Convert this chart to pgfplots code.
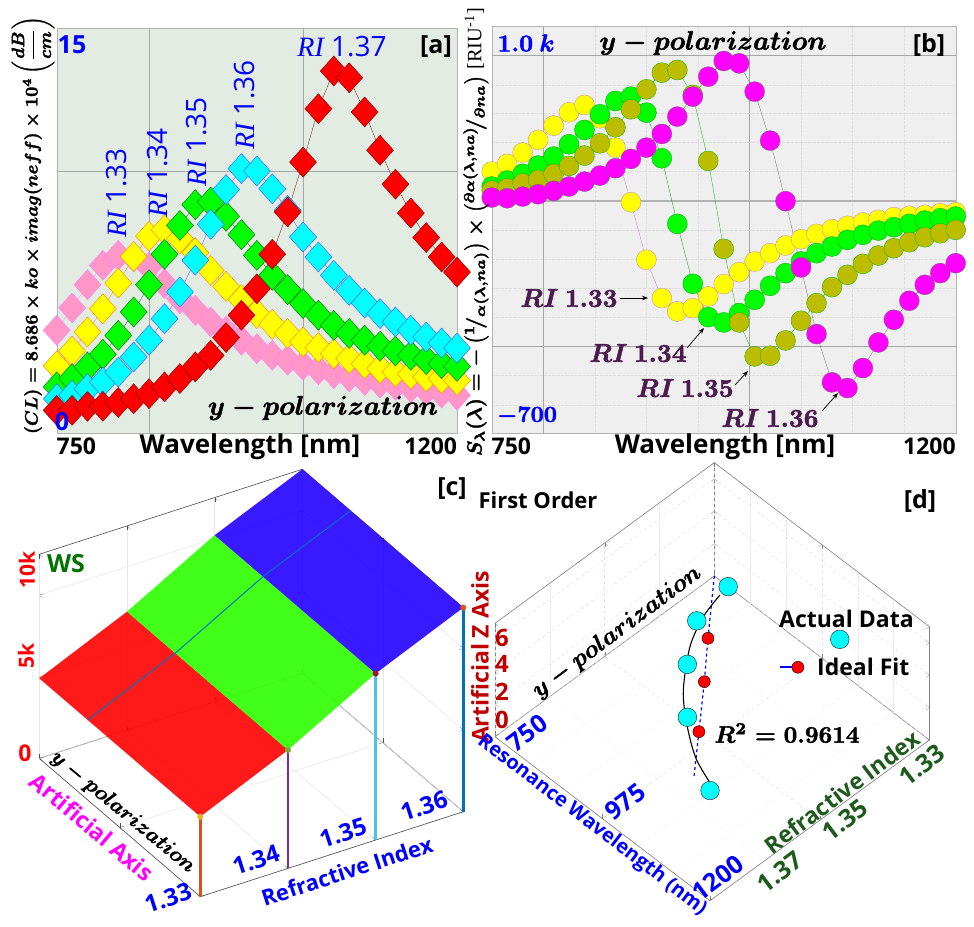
\documentclass[border=0pt]{standalone}
\usepackage[no-math]{fontspec}
\usepackage{pgfplots}
\usepackage{pgfplotstable}
\pgfplotsset{compat=1.18}
\usetikzlibrary{arrows.meta}
\setmainfont{Open Sans}
\newfontfamily\rifont{Liberation Serif}

% font size shorthand
\newcommand{\fs}[1]{\fontsize{#1}{#1}\selectfont}
% bold math squeezed to a width in px, outlined a little to get the weight of the original
\newcommand{\heavy}[1]{\special{pdf:code q 2 Tr 0.18 w}#1\special{pdf:code Q}}
\newcommand{\mb}[2]{\resizebox{#1pt}{!}{\heavy{\boldmath$#2$}}}
\newcommand{\riblue}[1]{\fs{28}{\rifont\itshape RI} #1}

% plain rgb primaries, the xcolor ones are cmyk here
\definecolor{cyan}{rgb}{0,1,1}
\definecolor{magenta}{rgb}{1,0,1}
\definecolor{yellow}{rgb}{1,1,0}
\definecolor{bga}{HTML}{E3ECE3}
\definecolor{bgb}{HTML}{EFEFEF}
\definecolor{ripurple}{HTML}{4B1A4F}
\definecolor{dgreen}{HTML}{1E5A1E}
\definecolor{dred}{HTML}{C00000}
\definecolor{pinkd}{HTML}{FF96C8}
\definecolor{olive}{HTML}{BDBD00}
\definecolor{sheetg}{HTML}{2DFF00}
\definecolor{sheetb}{HTML}{2400FF}
\definecolor{st1}{HTML}{D95319}
\definecolor{st2}{HTML}{7E2F8E}
\definecolor{st3}{HTML}{4DBEEE}
\definecolor{st4}{HTML}{0072BD}
\definecolor{tip1}{HTML}{EDB120}
\definecolor{tip2}{HTML}{77AC30}
\definecolor{tip3}{HTML}{A2142F}
\definecolor{tip4}{HTML}{D95319}

\pgfplotstableread{
x pink yellow green cyan red
750.0 3.81 2.49 1.71 1.27 0.84
767.3 4.64 3.04 2.02 1.40 0.84
784.6 5.50 3.75 2.45 1.64 0.99
801.9 6.22 4.61 2.92 1.89 0.99
819.2 6.59 5.56 3.62 2.26 1.13
836.5 6.53 6.55 4.49 2.82 1.27
853.8 6.16 7.30 5.50 3.44 1.46
871.2 5.54 7.54 6.63 4.24 1.71
888.5 4.98 7.21 7.70 5.23 2.02
905.8 4.55 6.69 8.47 6.41 2.45
923.1 4.12 6.03 8.57 7.74 2.88
940.4 3.78 5.44 8.04 9.03 3.54
957.7 3.44 4.95 7.36 9.81 4.37
975.0 3.13 4.43 6.59 9.72 5.35
992.3 2.88 4.03 5.85 9.06 6.63
1009.6 2.70 3.69 5.32 8.26 8.20
1026.9 2.51 3.38 4.80 7.27 10.05
1044.2 2.35 3.17 4.37 6.53 12.03
1061.5 2.20 2.94 3.99 5.85 13.43
1078.8 2.08 2.76 3.69 5.29 13.18
1096.2 1.95 2.57 3.44 4.82 11.91
1113.5 1.85 2.39 3.22 4.43 10.49
1130.8 1.77 2.26 3.04 4.12 9.23
1148.1 1.68 2.18 2.88 3.81 8.16
1165.4 1.58 2.08 2.72 3.56 7.25
1182.7 1.48 2.02 2.57 3.34 6.53
1200.0 1.40 1.95 2.47 3.15 5.97
}\lossdata

\pgfplotstableread{
x yellow green olive magenta
750 393.8 331.1 314.4 285.1
765 425.9 356.2 324.1 282.3
780 473.2 384.0 345.0 289.3
795 526.2 418.9 358.9 299.0
810 586.0 456.5 384.0 313.0
825 641.8 508.0 417.5 331.1
840 672.5 568.0 460.7 352.0
855 616.7 633.5 512.2 377.1
870 494.1 689.2 579.1 407.7
885 265.6 707.3 654.4 446.7
900 24.5 640.4 737.9 494.1
915 -135.7 449.5 807.6 551.3
930 -191.4 175.0 818.8 623.7
945 -177.5 -75.8 714.3 707.3
960 -128.7 -215.1 438.4 790.9
975 -77.2 -237.4 70.5 856.4
990 -27.0 -198.4 -237.4 846.6
1005 17.6 -142.7 -379.5 728.2
1020 52.4 -84.1 -376.8 523.4
1035 84.5 -31.2 -312.7 269.8
1050 110.9 17.6 -230.4 -7.5
1065 133.2 52.4 -156.6 -286.2
1080 152.7 80.3 -89.7 -488.2
1095 166.7 108.2 -38.2 -512.0
1110 180.6 129.0 7.8 -428.3
1125 191.8 147.1 42.6 -321.0
1140 202.9 161.1 73.3 -226.3
1155 208.5 175.0 98.4 -146.8
1170 212.6 188.9 119.3 -80.0
1185 219.6 198.7 136.0 -31.2
1200 223.8 205.7 150.0 10.6
}\sensdata

\pgfplotsset{
  panel/.style={
    scale only axis, clip=false,
    xmin=750, xmax=1200,
    major tick length=0pt, minor tick length=0pt,
    axis line style={gray!60},
    tick label style={font=\bfseries\fs{23}},
    yticklabel=\empty,
    xticklabels={\rlap{750},,,\llap{1200}},
    every x tick label/.append style={yshift=-1pt},
  },
  dia/.style 2 args={mark=diamond*, mark size=15pt, line width=0.3pt, color=#2,
    mark options={xscale=1.2, fill=#1, draw=#2, line width=0.4pt, solid}},
  ball/.style 2 args={mark=*, mark size=10pt, line width=0.3pt, color=#2,
    mark options={fill=#1, draw=#2, line width=0.3pt, solid}},
  stem/.style 2 args={color=#1, line width=2.8pt, mark=*, mark indices={2}, mark size=2.8pt,
    mark options={fill=#2, draw=#2, line width=0.3pt}},
}

\begin{document}
\begin{tikzpicture}
\path[use as bounding box] (0,0) rectangle (974pt,926pt);

% [a] confinement loss
\begin{axis}[panel, at={(56.7pt,493pt)}, anchor=south west, width=400.3pt, height=404.3pt,
  ymin=0, ymax=15, axis background/.style={fill=bga},
  xtick={750,853.8,1026.9,1200}, ytick={0,9.7,15},
  minor xtick={975}, minor ytick={7.4},
  xmajorgrids, ymajorgrids, major grid style={gray!70, line width=0.4pt},
]
\addplot[dia={pinkd}{magenta!50}] table[x=x,y=pink] {\lossdata};
\addplot[dia={yellow}{orange}] table[x=x,y=yellow] {\lossdata};
\addplot[dia={green}{black!60!green}] table[x=x,y=green] {\lossdata};
\addplot[dia={cyan}{blue!70}] table[x=x,y=cyan] {\lossdata};
\addplot[dia={red}{black!55!red}] table[x=x,y=red] {\lossdata};
\end{axis}

% [b] sensitivity
\begin{axis}[panel, at={(491.7pt,493pt)}, anchor=south west, width=464pt, height=406.3pt,
  ymin=-700, ymax=1000, axis background/.style={fill=bgb},
  xtick={750,800,1000,1200}, ytick={-338,271,879},
  minor xtick={850,900,950,1050,1100,1150},
  minor ytick={-582,-459,-216,-94,29,150,394,515,638,757},
  xmajorgrids, ymajorgrids, xminorgrids, yminorgrids,
  major grid style={gray!70, line width=0.4pt},
  minor grid style={gray!25, line width=0.3pt, densely dotted},
]
\addplot[gray!60, line width=1.2pt, forget plot] coordinates {(750,271)(1200,271)};
\addplot[ball={yellow}{violet!50}] table[x=x,y=yellow] {\sensdata};
\addplot[ball={green}{black!40!green}] table[x=x,y=green] {\sensdata};
\addplot[ball={olive}{black!30!green}] table[x=x,y=olive] {\sensdata};
\addplot[ball={magenta}{black!60}] table[x=x,y=magenta] {\sensdata};
\end{axis}

% [c] 3d sheet
\begin{axis}[at={(39.3pt,29.3pt)}, anchor=south west, clip=false,
  x={(8767pt,2833pt)}, y={(-161pt,138.3pt)}, z={(0pt,16.33pt)},
  xmin=1.33, xmax=1.36, ymin=0, ymax=1, zmin=0, zmax=12.5,
  xtick={1.33,1.34,1.35,1.36}, ytick={0,0.5,1}, ztick={0,5,10},
  xticklabel=\empty, yticklabel=\empty, zticklabel=\empty,
  grid=major, major grid style={gray!20, line width=0.5pt},
  axis line style={black!70, line width=0.6pt}, tick style={black!70},
]
\addplot3[fill=red, draw=none, fill opacity=0.9] coordinates {(1.33,0,4.9)(1.34,0,7.25)(1.34,1,7.25)(1.33,1,4.9)};
\addplot3[fill=sheetg, draw=none, fill opacity=0.9] coordinates {(1.34,0,7.25)(1.35,0,10.2)(1.35,1,10.2)(1.34,1,7.25)};
\addplot3[fill=sheetb, draw=none, fill opacity=0.9] coordinates {(1.35,0,10.2)(1.36,0,12.5)(1.36,1,12.5)(1.35,1,10.2)};
\addplot3[color=st4, line width=1pt] coordinates {(1.33,0.7,4.9)(1.34,0.7,7.25)(1.35,0.7,10.2)(1.36,0.7,12.5)};
\addplot3[stem={st1}{tip1}] coordinates {(1.33,0,0)(1.33,0,4.9)};
\addplot3[stem={st2}{tip2}] coordinates {(1.34,0,0)(1.34,0,7.25)};
\addplot3[stem={st3}{tip3}] coordinates {(1.35,0,0)(1.35,0,10.2)};
\addplot3[stem={st4}{tip4}] coordinates {(1.36,0,0)(1.36,0,12.5)};
\end{axis}

% [d] linear fit in 3d, order (RI, wavelength, z)
\begin{axis}[at={(495pt,25.3pt)}, anchor=south west, clip=false,
  x={(-5483pt,-4017pt)}, y={(0.4778pt,-0.3644pt)}, z={(0pt,16.2pt)},
  xmin=1.33, xmax=1.37, ymin=750, ymax=1200, zmin=0, zmax=7,
  xtick={1.33,1.35,1.37}, ytick={750,975,1200}, ztick={0,2,4,6},
  minor ytick={825,900,1050,1125}, minor xtick={1.34,1.36},
  xticklabel=\empty, yticklabel=\empty, zticklabel=\empty,
  grid=both, major grid style={gray!25, dashed, line width=0.4pt},
  minor grid style={gray!20, densely dotted, line width=0.3pt},
  axis line style={gray, line width=0.6pt}, tick style={gray}, minor tick length=0pt,
]
\addplot3[only marks, mark=*, mark size=9.3pt, mark options={fill=cyan, draw=black!80, line width=0.5pt}]
  coordinates {(1.33,779,0)(1.34,828,1.47)(1.35,923,3.4)(1.36,1038,5.2)(1.37,1200,6.8)};
\addplot3[blue, dashed, line width=1.2pt, mark=*, mark indices={2,3,4}, mark size=6pt,
  mark options={solid, fill=red, draw=black, line width=0.4pt}]
  coordinates {(1.33,750,0)(1.34,851.5,0.92)(1.35,958.6,3.13)(1.36,1062,4.85)(1.37,1166.5,6.9)};
\addplot3[black, smooth, line width=1.1pt] coordinates {(1.3318,782.4,0)(1.338,818.8,1.02)(1.344,859.7,1.58)(1.3532,951.4,3.25)(1.36,1036.4,4.78)(1.3652,1117,5.63)(1.37,1217,6.9)};
\end{axis}

% legend of [d], on its own hidden axis
\begin{axis}[hide axis, scale only axis, at={(776pt,245pt)}, anchor=south west, width=120pt, height=60pt,
  xmin=0, xmax=1, ymin=0, ymax=1,
  legend style={at={(0,0)}, anchor=south west, draw=none, fill=none,
    font=\bfseries\fs{23}, cells={anchor=west}, row sep=25pt},
]
\addlegendimage{legend image code/.code={\node[overlay, circle, inner sep=0pt, minimum size=18.6pt, fill=cyan, draw=black!80, line width=0.5pt] at (50pt,-20pt) {};}}
\addlegendentry{\makebox[0pt][l]{\hspace*{-27pt}Actual Data}\phantom{Ideal Fit}}
\addlegendimage{legend image code/.code={\draw[blue, line width=2pt] (0,0)--(23pt,0); \node[circle, inner sep=0pt, minimum size=12pt, fill=red, draw=black, line width=0.4pt] at (11.5pt,0) {};}}
\addlegendentry{\hspace*{11pt}Ideal Fit}
\end{axis}

% all annotation in reference pixel coordinates
\begin{scope}[x=1pt, y=-1pt, shift={(0,926pt)}]
  % panel a
  \node[blue, font=\bfseries\fs{25}] at (72,45) {15};
  \node[blue, font=\bfseries\fs{25}] at (62,422) {0};
  \node[font=\bfseries\fs{25}] at (436,47) {[a]};
  \node[blue] at (342,47) {\riblue{1.37}};
  \node[blue, rotate=90] at (117,193) {\riblue{1.33}};
  \node[blue, rotate=90] at (158,173) {\riblue{1.34}};
  \node[blue, rotate=90] at (197,142) {\riblue{1.35}};
  \node[blue, rotate=90] at (245,105) {\riblue{1.36}};
  \node at (323,408) {\mb{230}{y - polarization}};
  \node[font=\bfseries\fs{26}] at (250,447) {Wavelength [nm]};
  \node[rotate=90] at (33,225) {\mb{418}{(CL) = 8.686 \times ko \times imag(neff) \times 10^{4}\left(\displaystyle\frac{dB}{cm}\right)}};
  \node[rotate=90] at (476,232) {\resizebox{448pt}{!}{\heavy{\boldmath$S_{\lambda}(\lambda) = -\left({}^{1}\!/_{\alpha(\lambda,na)}\right) \times \left({}^{\partial\alpha(\lambda,na)}\!/_{\partial na}\right)$}\ \textrm{\rifont [RIU\textsuperscript{-1}]}}};
  % panel b
  \node[blue] at (526,43) {\mb{57}{1.0\ k}};
  \node[blue] at (527,416) {\mb{60}{-700}};
  \node at (713,43) {\mb{227}{y - polarization}};
  \node[font=\bfseries\fs{25}] at (929,45) {[b]};
  \node[font=\bfseries\fs{26}] at (725,447) {Wavelength [nm]};
  \node[ripurple] at (569,298) {\mb{97}{RI\ 1.33}};
  \node[ripurple] at (638,353) {\mb{97}{RI\ 1.34}};
  \node[ripurple] at (685,388) {\mb{97}{RI\ 1.35}};
  \node[ripurple] at (770,418) {\mb{97}{RI\ 1.36}};
  \draw[-{Stealth[length=6pt]}, line width=0.7pt] (620,298)--(648,298);
  \draw[-{Stealth[length=6pt]}, line width=0.7pt] (687,348)--(704,328);
  \draw[-{Stealth[length=6pt]}, line width=0.7pt] (735,385)--(748,371);
  \draw[-{Stealth[length=6pt]}, line width=0.7pt] (822,411)--(838,393);
  % panel c
  \node[font=\bfseries\fs{25}] at (452,489) {[c]};
  \node[green!45!black, font=\bfseries\fs{25}] at (66,564) {WS};
  \node[red, rotate=90, font=\bfseries\fs{21}] at (27,570) {10k};
  \node[red, rotate=90, font=\bfseries\fs{21}] at (26,656) {5k};
  \node[red, font=\bfseries\fs{23}] at (25,753) {0};
  \node[rotate=-39.5] at (123,812) {\mb{180}{y - polarization}};
  \node[magenta, rotate=-40, font=\bfseries\fs{23}] at (92,827) {Artificial Axis};
  \node[blue, rotate=18, font=\bfseries\fs{24}] at (168,898) {1.33};
  \node[blue, rotate=18, font=\bfseries\fs{24}] at (256,860) {1.34};
  \node[blue, rotate=18, font=\bfseries\fs{24}] at (343,833) {1.35};
  \node[blue, rotate=18, font=\bfseries\fs{24}] at (424,806) {1.36};
  \node[blue, rotate=18, font=\bfseries\fs{22}] at (347,871) {Refractive Index};
  \node[dred, rotate=90, font=\bfseries\fs{23}] at (480,657) {Artificial Z Axis};
  % panel d
  \node[font=\bfseries\fs{22}] at (538,500) {First Order};
  \node[font=\bfseries\fs{25}] at (920,501) {[d]};
  \node[rotate=36.8] at (617,632) {\mb{205}{y - polarization}};
  \node[dred, font=\bfseries\fs{24}] at (502,638) {6};
  \node[dred, font=\bfseries\fs{24}] at (502,664) {4};
  \node[dred, font=\bfseries\fs{24}] at (502,692) {2};
  \node[dred, font=\bfseries\fs{24}] at (502,720) {0};
  \node[blue, rotate=37, font=\bfseries\fs{25}] at (527,733) {750};
  \node[blue, rotate=37, font=\bfseries\fs{25}] at (625,802) {975};
  \node[blue, rotate=37, font=\bfseries\fs{25}] at (718,878) {1200};
  \node[blue, rotate=-37.5, font=\bfseries\fs{20}] at (592,825) {Resonance Wavelength (nm)};
  \node[dgreen, rotate=37, font=\bfseries\fs{25}] at (780,872) {1.37};
  \node[dgreen, rotate=37, font=\bfseries\fs{25}] at (845,820) {1.35};
  \node[dgreen, rotate=37, font=\bfseries\fs{25}] at (922,765) {1.33};
  \node[dgreen, rotate=37, font=\bfseries\fs{23}] at (842,792) {Refractive Index};
  \node at (787,733) {\mb{145}{R^{2} = 0.9614}};
\end{scope}
\end{tikzpicture}
\end{document}
